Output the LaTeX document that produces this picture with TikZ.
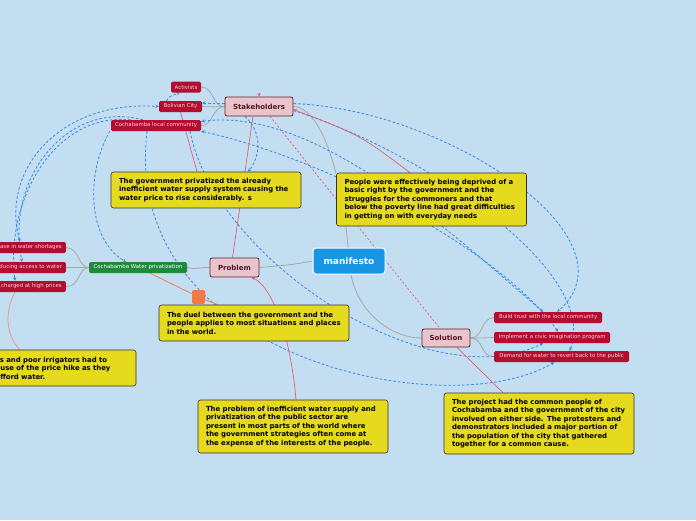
\documentclass[tikz,border=0pt]{standalone}
\usepackage{fontspec}
\setmainfont{DejaVu Sans}
\usetikzlibrary{arrows.meta}
\definecolor{bgc}{RGB}{195,222,241}
\definecolor{noteyel}{RGB}{230,218,30}
\definecolor{notebd}{RGB}{50,50,50}
\definecolor{leafred}{RGB}{179,13,47}
\definecolor{leaftxt}{RGB}{245,212,220}
\definecolor{topicpink}{RGB}{232,196,203}
\definecolor{topicbd}{RGB}{106,28,44}
\definecolor{topictxt}{RGB}{90,18,34}
\definecolor{manblue}{RGB}{25,149,230}
\definecolor{leafgreen}{RGB}{30,138,60}
\definecolor{grayl}{RGB}{168,168,168}
\definecolor{redl}{RGB}{228,96,110}
\definecolor{bluel}{RGB}{58,140,230}
\definecolor{orangel}{RGB}{240,122,66}
\definecolor{salmonl}{RGB}{240,144,128}
\pgfdeclarelayer{bglayer}
\pgfdeclarelayer{lines}
\pgfsetlayers{bglayer,lines,main}
\tikzset{
  note/.style={draw=notebd, line width=0.6pt, fill=noteyel, rounded corners=2.5pt,
    text width=174pt, inner xsep=8pt, inner ysep=0pt, align=left, text=black,
    font=\fontsize{6.9}{8.5}\selectfont\bfseries},
  topic/.style={draw=topicbd, line width=0.8pt, fill=topicpink, rounded corners=2pt,
    inner sep=0pt, text=topictxt, font=\fontsize{7}{8}\selectfont\bfseries},
  leaf/.style={fill=leafred, rounded corners=1.5pt, inner xsep=4pt, inner ysep=0pt,
    minimum height=11pt, text=leaftxt, font=\fontsize{5.4}{6}\selectfont},
  greenleaf/.style={leaf, fill=leafgreen, text=white},
  grayline/.style={draw=grayl, line width=0.8pt},
  redline/.style={draw=redl, line width=0.7pt},
  bluedash/.style={draw=bluel, line width=0.85pt, dash pattern=on 2.6pt off 2pt},
  tip/.style={-{Stealth[length=3.4pt,width=3.4pt]}},
  tips/.style={{Stealth[length=3.4pt,width=3.4pt]}-{Stealth[length=3.4pt,width=3.4pt]}},
}
\begin{document}
\begin{tikzpicture}[x=1pt,y=-1pt]
\begin{pgfonlayer}{bglayer}
\fill[bgc] (0,0) rectangle (696,520);
\end{pgfonlayer}
\useasboundingbox (0,0) rectangle (696,520);
\clip (0,0) rectangle (696,520);

% main nodes
\node[draw=white, line width=1pt, fill=manblue, rounded corners=3pt, text=white,
  font=\fontsize{9}{10}\selectfont\bfseries, minimum width=72pt, minimum height=26pt,
  inner sep=0pt] (man) at (349,261) {manifesto};
\node[topic, minimum width=68pt, minimum height=19pt] (stake) at (259,106.5) {Stakeholders};
\node[topic, minimum width=49pt, minimum height=19pt] (prob) at (234.5,267.5) {Problem};
\node[topic, minimum width=48pt, minimum height=18pt] (sol) at (446,338) {Solution};

\node[leaf, minimum width=30pt, inner xsep=0pt] (act) at (186,87) {Activists};
\node[leaf, minimum width=43pt, inner xsep=0pt] (bc) at (180.5,106.5) {Bolivian City};
\node[leaf, minimum width=90pt, inner xsep=0pt] (lc) at (156,125.5) {Cochabamba local community};
\node[greenleaf, minimum width=98pt, inner xsep=0pt] (green) at (138,267.5) {Cochabamba Water privatization};

\node[leaf, anchor=east] (l1) at (66,247.5) {Increase in water shortages};
\node[leaf, anchor=east] (l2) at (66,267.5) {Reducing access to water};
\node[leaf, anchor=east] (l3) at (66,286.5) {Water charged at high prices};

\node[leaf, anchor=west, minimum width=108pt, inner xsep=0pt] (k1) at (494,317.5) {Build trust with the local community};
\node[leaf, anchor=west, minimum width=116pt, inner xsep=0pt] (k2) at (494,337.5) {Implement a civic imagination program};
\node[leaf, anchor=west, minimum width=135pt, inner xsep=0pt] (k3) at (494,356.5) {Demand for water to revert back to the public};

\node[note, minimum height=36pt] (n1) at (206,190) {The government privatized the already\\inefficient water supply system causing the\\water price to rise considerably. s};
\node[note, minimum height=53pt] (n2) at (431.5,199.5) {People were effectively being deprived of a\\basic right by the government and the\\struggles for the commoners and that\\below the poverty line had great difficulties\\in getting on with everyday needs};
\node[note, minimum height=36pt] (n3) at (254,323) {The duel between the government and the\\people applies to most situations and places\\in the world.};
\node[note, minimum height=36pt, text width=171pt] (n4) at (42.5,368) {The farmers and poor irrigators had to\\suffer because of the price hike as they\\could not afford water.};
\node[note, minimum height=53pt] (n5) at (293,426.5) {The problem of inefficient water supply and\\privatization of the public sector are\\present in most parts of the world where\\the government strategies often come at\\the expense of the interests of the people.};
\node[note, minimum height=61pt] (n6) at (539,423.5) {The project had the common people of\\Cochabamba and the government of the city\\involved on either side. The protesters and\\demonstrators included a major portion of\\the population of the city that gathered\\together for a common cause.};

\node[fill=orangel, rounded corners=2pt, minimum width=13pt, minimum height=14pt, inner sep=0pt] (osq) at (198.5,297) {};

\begin{pgfonlayer}{lines}
% gray tree lines
\draw[grayline] (stake.east) .. controls (325,108) and (345,190) .. (man.center);
\draw[grayline] (man.center) .. controls (352,310) and (390,338) .. (sol.west);
\draw[grayline] (man.west) .. controls (290,265) .. (prob.east);
\draw[grayline] (prob.west) .. controls (198,267) and (198,270) .. (green.east);
\draw[grayline] (green.west) -- (l2.east);
\draw[grayline] (green.west) .. controls (78,268) and (80,248) .. (l1.east);
\draw[grayline] (green.west) .. controls (78,268) and (80,287) .. (l3.east);
\draw[grayline] (stake.west) .. controls (212,107) and (214,87) .. (act.east);
\draw[grayline] (stake.west) .. controls (212,107) .. (bc.east);
\draw[grayline] (stake.west) .. controls (212,107) and (213,126) .. (lc.east);
\draw[grayline] (sol.east) .. controls (484,338) and (480,318) .. (k1.west);
\draw[grayline] (sol.east) .. controls (484,338) .. (k2.west);
\draw[grayline] (sol.east) .. controls (484,338) and (480,357) .. (k3.west);

% blue dashed relations
\draw[bluedash, tip] ([yshift=3.5pt]stake.west) -- ([yshift=3.5pt]bc.east);
\draw[bluedash, tips] ([xshift=-46pt]l1.north east) .. controls (0,170) and (60,100) .. (bc.west);
\draw[bluedash, tip] ([xshift=32pt]lc.north west) .. controls (70,100) and (5,175) .. ([xshift=-44pt]l2.north east);
\draw[bluedash, tip] ([xshift=20pt]lc.north west) .. controls (55,112) and (5,200) .. ([xshift=-51pt]l3.north east);
\draw[bluedash, tip] ([xshift=-1pt]lc.south west) .. controls (85,175) and (88,240) .. ([xshift=-12pt]green.north);
\draw[bluedash, tip] ([xshift=-9pt]lc.south) .. controls (120,360) and (450,425) .. ([xshift=-7.5pt]k3.south);
\draw[bluedash, tip] ([xshift=34pt]lc.south) .. controls (215,260) and (430,400) .. ([xshift=-9pt]k2.south);
\draw[bluedash, tip] ([xshift=-14pt]stake.south) .. controls (265,135) and (258,160) .. ([xshift=42pt]n1.north);
\draw[bluedash, tip] ([yshift=3pt]stake.east) .. controls (450,110) and (640,240) .. ([xshift=9pt]k1.north);
\draw[bluedash, tips] ([yshift=4pt]lc.east) .. controls (320,105) and (470,250) .. ([xshift=-5pt]k1.north);
\draw[bluedash, tips] (lc.south east) .. controls (330,160) and (500,250) .. ([xshift=6pt]k2.north);
\draw[bluedash, tip] ([yshift=-4pt]stake.east) .. controls (420,150) and (600,270) .. ([xshift=8pt]k3.north);
\draw[bluedash, tip] ([xshift=-14pt]bc.north) .. controls (170,96) .. ([xshift=-6pt]act.south);

% red relations and note links
\draw[redline] (bc.south) -- ([xshift=-9pt]n1.north);
\draw[redline] ([xshift=-6pt]stake.south) -- ([xshift=-2pt]prob.north);
\draw[redline, tip] ([xshift=-21.5pt]n2.north) .. controls (360,135) .. ([yshift=-3pt]stake.east);
\draw[redline, tip] ([xshift=3pt]n5.north) .. controls (290,330) and (270,285) .. ([xshift=17pt]prob.south);
\draw[redline] ([xshift=11pt]sol.south) -- ([xshift=-36pt]n6.north);
\draw[redline, dash pattern=on 2pt off 2pt] ([xshift=11pt]stake.south) -- ([xshift=-6pt]sol.north);
\draw[redline, tip] ([yshift=3.5pt]stake.north) -- (stake.north);
\draw[draw=orangel, line width=0.7pt] ([xshift=12pt]green.south) -- (osq) -- ([xshift=-36pt]n3.north);
\draw[draw=salmonl, line width=0.7pt] ([xshift=-51pt]l3.south east) .. controls (5,310) and (5,335) .. ([xshift=-22.5pt]n4.north);
\end{pgfonlayer}
\end{tikzpicture}
\end{document}
